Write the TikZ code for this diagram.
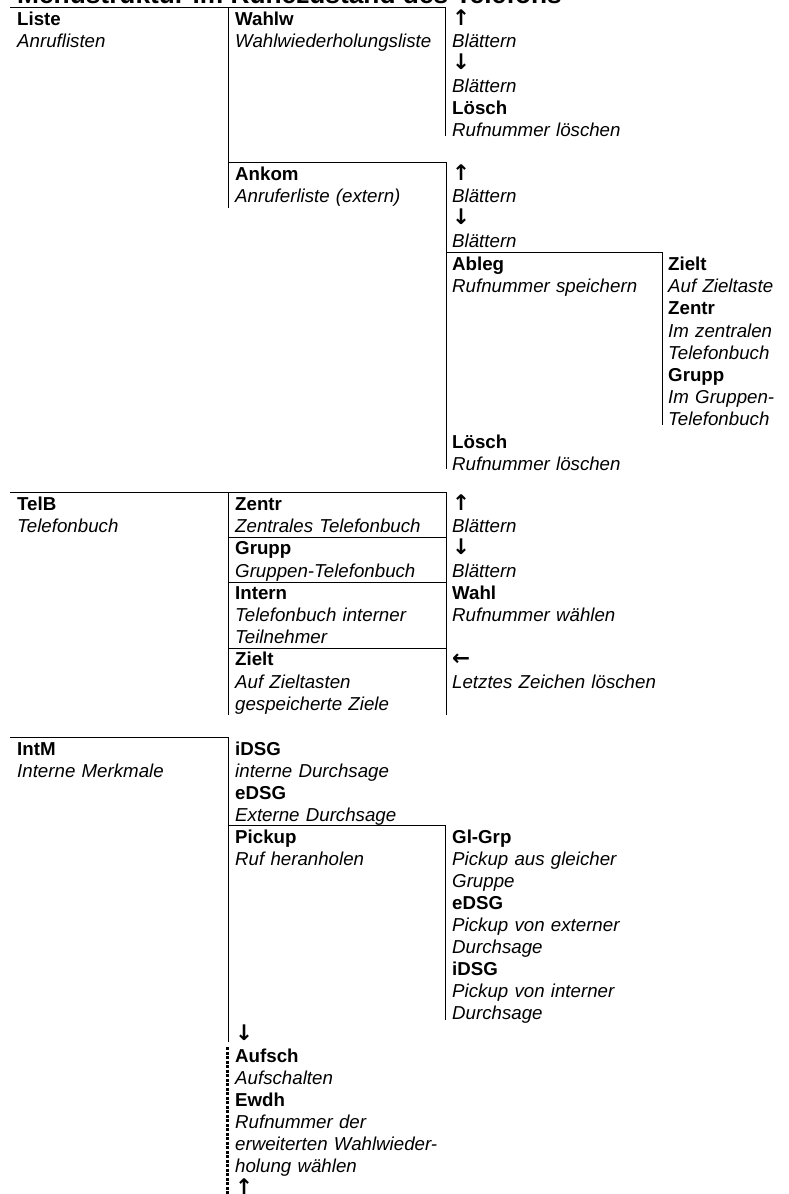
\documentclass[tikz,border=0pt]{standalone}
\usepackage{fontspec}
\setmainfont{Liberation Sans}
\newfontfamily\arrowfont{DejaVu Sans}
\newcommand{\menufont}{\fontsize{18.7pt}{22.2pt}\selectfont}
\newcommand{\menufonttight}{\fontsize{18.7pt}{22pt}\selectfont}
\newcommand{\mkey}[1]{\textbf{#1}}
\newcommand{\mdesc}[1]{\textit{#1}}
\newcommand{\marrow}[1]{{\arrowfont\bfseries\fontsize{21.5pt}{22pt}\selectfont #1}}
\tikzstyle{entry} = [
    anchor=base west,
    inner sep=0pt,
    text width=212pt,
    align=left,
    font=\menufont
]
\tikzstyle{narrowentry} = [
    entry,
    text width=118pt
]
\tikzstyle{rule} = [
    line width=1pt,
    draw=black
]
\tikzstyle{softrule} = [
    line width=2.6pt,
    draw=black,
    dash pattern=on 3pt off 1.5pt
]

\begin{document}
\begin{tikzpicture}[x=1pt, y=-1pt]
    \useasboundingbox (0,0) rectangle (789,1194);
    % title, cut by the page edge
    \node[anchor=base west, inner sep=0pt,
        font=\bfseries\fontsize{26.3pt}{30pt}\selectfont] (title) at (17,3.5)
        {Menüstruktur im Ruhezustand des Telefons};

    % Liste
    \draw[rule] (10,7) -- (445,7);
    \draw[rule] (228,7) -- (228,208);
    \draw[rule] (445,7) -- (445,136);
    \draw[rule] (228,162) -- (446,162);
    \draw[rule] (446,162) -- (446,469);
    \draw[rule] (446,252) -- (662,252);
    \draw[rule] (662,252) -- (662,425);
    \node[entry] (liste) at (17,25.5) {\mkey{Liste}\\\mdesc{Anruflisten}};
    \node[entry] (wahlw) at (235,25.5) {\mkey{Wahlw}\\\mdesc{Wahlwiederholungsliste}};
    \node[entry] (wahlwkeys) at (452,25.5)
        {\marrow{↑}\\\mdesc{Blättern}\\\marrow{↓}\\\mdesc{Blättern}\\\mkey{Lösch}\\\mdesc{Rufnummer löschen}};
    \node[entry] (ankom) at (235,180.5) {\mkey{Ankom}\\\mdesc{Anruferliste (extern)}};
    \node[entry] (ankomkeys) at (452,180.5) {\marrow{↑}\\\mdesc{Blättern}\\\marrow{↓}\\\mdesc{Blättern}};
    \node[entry] (ableg) at (452,270.5) {\mkey{Ableg}\\\mdesc{Rufnummer speichern}};
    \node[narrowentry] (ablegziel) at (668,270.5)
        {\mkey{Zielt}\\\mdesc{Auf Zieltaste}\\\mkey{Zentr}\\\mdesc{Im zentralen}\\\mdesc{Telefonbuch}\\\mkey{Grupp}\\\mdesc{Im Gruppen-}\\\mdesc{Telefonbuch}};
    \node[entry] (ankomloesch) at (452,448) {\mkey{Lösch}\\\mdesc{Rufnummer löschen}};

    % TelB
    \draw[rule] (10,492) -- (446,492);
    \draw[rule] (228,492) -- (228,715);
    \draw[rule] (446,492) -- (446,715);
    \draw[rule] (228,537) -- (446,537);
    \draw[rule] (228,582) -- (446,582);
    \draw[rule] (228,648) -- (446,648);
    \node[entry] (telb) at (17,510.5) {\mkey{TelB}\\\mdesc{Telefonbuch}};
    \node[entry] (zentr) at (235,510.5) {\mkey{Zentr}\\\mdesc{Zentrales Telefonbuch}};
    \node[entry] (grupp) at (235,554.9) {\mkey{Grupp}\\\mdesc{Gruppen-Telefonbuch}};
    \node[entry] (intern) at (235,599.3) {\mkey{Intern}\\\mdesc{Telefonbuch interner}\\\mdesc{Teilnehmer}};
    \node[entry] (zielt) at (235,665.9) {\mkey{Zielt}\\\mdesc{Auf Zieltasten}\\\mdesc{gespeicherte Ziele}};
    \node[entry] (telbkeys) at (452,510.5)
        {\marrow{↑}\\\mdesc{Blättern}\\\marrow{↓}\\\mdesc{Blättern}\\\mkey{Wahl}\\\mdesc{Rufnummer wählen}};
    \node[entry] (telbdel) at (452,665.9) {\marrow{←}\\\mdesc{Letztes Zeichen löschen}};

    % IntM
    \draw[rule] (10,737) -- (228,737);
    \draw[rule] (228,737) -- (228,1042);
    \draw[rule] (228,825) -- (445,825);
    \draw[rule] (445,825) -- (445,1020);
    \draw[softrule] (227.3,1047) -- (227.3,1196);
    \node[entry, font=\menufonttight] (intm) at (17,755.5) {\mkey{IntM}\\\mdesc{Interne Merkmale}};
    \node[entry, font=\menufonttight] (dsg) at (235,755.5)
        {\mkey{iDSG}\\\mdesc{interne Durchsage}\\\mkey{eDSG}\\\mdesc{Externe Durchsage}};
    \node[entry, font=\menufonttight] (pickup) at (235,843.5) {\mkey{Pickup}\\\mdesc{Ruf heranholen}};
    \node[entry, font=\menufonttight] (pickupgrp) at (452,843.5)
        {\mkey{Gl-Grp}\\\mdesc{Pickup aus gleicher}\\\mdesc{Gruppe}\\\mkey{eDSG}\\\mdesc{Pickup von externer}\\\mdesc{Durchsage}\\\mkey{iDSG}\\\mdesc{Pickup von interner}\\\mdesc{Durchsage}};
    \node[entry, font=\menufonttight] (pickupdown) at (235,1040) {\marrow{↓}};
    \node[entry, font=\menufonttight] (aufsch) at (235,1062)
        {\mkey{Aufsch}\\\mdesc{Aufschalten}\\\mkey{Ewdh}\\\mdesc{Rufnummer der}\\\mdesc{erweiterten Wahlwieder-}\\\mdesc{holung wählen}\\\marrow{↑}};
\end{tikzpicture}
\end{document}
